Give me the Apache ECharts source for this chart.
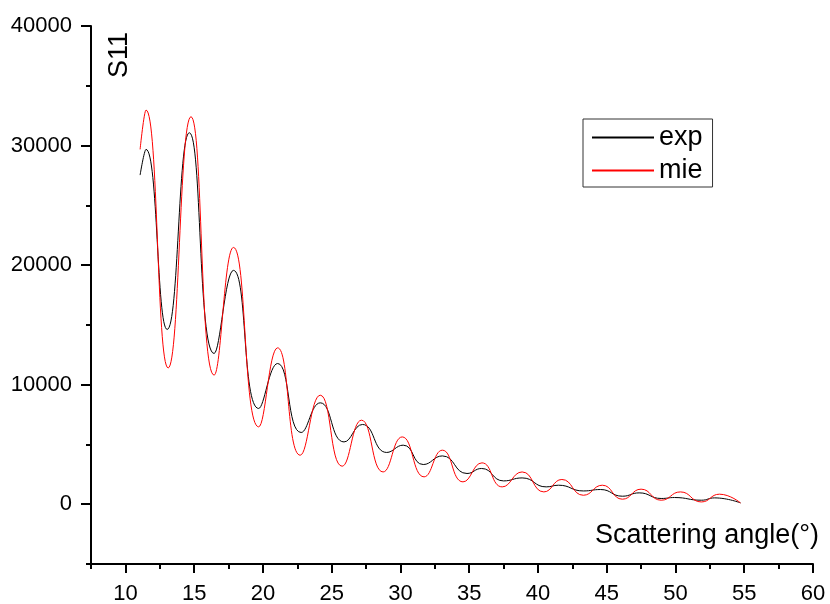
<!DOCTYPE html>
<html>
<head>
<meta charset="utf-8">
<script src="https://cdn.jsdelivr.net/npm/echarts@6/dist/echarts.min.js"></script>
<style>
  html, body { margin: 0; padding: 0; background: #fff; }
  #chart { width: 830px; height: 604px; }
</style>
</head>
<body>
<div id="chart"></div>
<script>
// scattering angle (deg) / S11 values
const expX = [11.07, 11.5, 13.04, 14.65, 16.45, 17.86, 19.69, 21.07, 22.78, 24.17, 25.9, 27.24, 29.0, 30.2, 31.66, 33.05, 34.84, 35.9, 37.5, 38.85, 40.6, 41.5, 43.3, 44.55, 46.14, 47.36, 48.96, 49.93, 51.88, 52.85, 54.73];
const expY = [27530, 29680, 14620, 31070, 12610, 19560, 8010, 11770, 6000, 8480, 5210, 6670, 4330, 4940, 3320, 4040, 2570, 2990, 1950, 2200, 1450, 1590, 1110, 1230, 670, 950, 480, 560, 335, 530, 110];
const mieX = [11.07, 11.5, 13.11, 14.77, 16.45, 17.86, 19.69, 21.07, 22.71, 24.17, 25.76, 27.17, 28.74, 30.13, 31.72, 33.05, 34.55, 35.93, 37.4, 38.85, 40.43, 41.74, 43.3, 44.68, 46.14, 47.5, 48.96, 50.36, 51.88, 53.2, 54.73];
const mieY = [29680, 32970, 11400, 32410, 10800, 21480, 6470, 13080, 4100, 9120, 3180, 7030, 2700, 5630, 2290, 4520, 1870, 3460, 1450, 2700, 1030, 2070, 750, 1590, 420, 1260, 335, 1030, 190, 840, 110];

const xTicks = [10, 15, 20, 25, 30, 35, 40, 45, 50, 55, 60];
const yTicks = [0, 10000, 20000, 30000, 40000];

const zip = (xs, ys) => xs.map((x, i) => [x, ys[i]]);

const font = '"Liberation Sans", Arial, sans-serif';
const chart = echarts.init(document.getElementById('chart'));

chart.setOption({
  animation: false,
  grid: { left: 91, right: 17, top: 26, bottom: 40, outerBoundsMode: 'none' },
  legend: {
    orient: 'vertical',
    left: 583,
    top: 119,
    padding: [5, 10, 3, 8],
    borderColor: '#333',
    borderWidth: 1,
    itemWidth: 62,
    itemHeight: 14,
    itemGap: 6,
    itemStyle: { opacity: 0 },
    textStyle: { fontSize: 27, color: '#000', fontFamily: font },
    data: ['exp', 'mie'],
  },
  xAxis: [
    {
      type: 'value',
      min: 7.5,
      max: 60,
      splitLine: { show: false },
      axisLine: { onZero: false, lineStyle: { color: '#000', width: 2 } },
      axisTick: { customValues: xTicks, length: 9, lineStyle: { color: '#000', width: 2 } },
      axisLabel: { customValues: xTicks, margin: 19, fontSize: 22, color: '#000', fontFamily: font },
    },
    {
      // short ticks every 2.5
      type: 'value',
      position: 'bottom',
      min: 7.5,
      max: 60,
      interval: 2.5,
      splitLine: { show: false },
      axisLine: { show: false, onZero: false },
      axisTick: { length: 5, lineStyle: { color: '#000', width: 2 } },
      axisLabel: { show: false },
    },
  ],
  yAxis: [
    {
      type: 'value',
      min: -5000,
      max: 40000,
      splitLine: { show: false },
      axisLine: { show: true, onZero: false, lineStyle: { color: '#000', width: 2 } },
      axisTick: { show: true, customValues: yTicks, length: 10, lineStyle: { color: '#000', width: 2 } },
      axisLabel: {
        customValues: yTicks,
        margin: 19,
        fontSize: 22,
        color: '#000',
        fontFamily: font,
        formatter: (v) => String(v),
      },
    },
    {
      type: 'value',
      position: 'left',
      min: -5000,
      max: 40000,
      interval: 5000,
      splitLine: { show: false },
      axisLine: { show: false, onZero: false },
      axisTick: { show: true, length: 5, lineStyle: { color: '#000', width: 2 } },
      axisLabel: { show: false },
    },
  ],
  graphic: [
    {
      type: 'text',
      right: 11,
      top: 522,
      style: { text: 'Scattering angle(°)', font: '27px ' + font, fill: '#000' },
    },
    {
      type: 'text',
      x: 120,
      y: 55,
      rotation: Math.PI / 2,
      style: { text: 'S11', font: '27px ' + font, fill: '#000', align: 'center', verticalAlign: 'middle' },
    },
  ],
  series: [
    {
      name: 'exp',
      type: 'line',
      data: zip(expX, expY),
      smooth: 0.5,
      symbol: 'none',
      lineStyle: { color: '#000', width: 1 },
      itemStyle: { color: '#000' },
    },
    {
      name: 'mie',
      type: 'line',
      data: zip(mieX, mieY),
      smooth: 0.5,
      symbol: 'none',
      lineStyle: { color: '#ff0000', width: 1 },
      itemStyle: { color: '#ff0000' },
    },
  ],
});
</script>
</body>
</html>
